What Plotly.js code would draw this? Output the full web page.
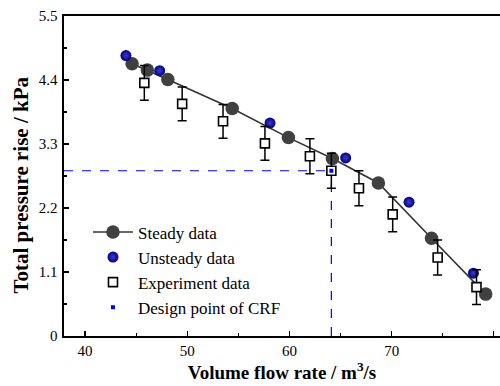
<!DOCTYPE html>
<html>
<head>
<meta charset="utf-8">
<script src="https://cdn.plot.ly/plotly-3.0.1.min.js"></script>
<style>html,body{margin:0;padding:0;overflow:hidden;background:#fff;}</style>
</head>
<body>
<div id="chart" style="width:500px;height:386px;"></div>
<script>
// Steady simulation data
const steadyX = [44.6, 46.1, 48.1, 54.4, 59.9, 64.2, 68.7, 73.9, 79.2];
const steadyY = [4.68, 4.57, 4.41, 3.91, 3.41, 3.05, 2.63, 1.68, 0.72];
// Unsteady simulation data
const unsteadyX = [44.0, 47.3, 58.1, 65.5, 71.7, 78.0];
const unsteadyY = [4.82, 4.56, 3.66, 3.06, 2.30, 1.08];
// Experiment data with error bars
const expX = [45.8, 49.5, 53.5, 57.6, 62.0, 64.1, 66.8, 70.1, 74.5, 78.3];
const expY = [4.35, 3.99, 3.69, 3.31, 3.09, 2.84, 2.54, 2.09, 1.35, 0.84];
const expErr = [0.30, 0.29, 0.29, 0.29, 0.30, 0.30, 0.30, 0.30, 0.30, 0.30];
// Design point
const designX = [64.1];
const designY = [2.84];
// Axis ticks
const xTicks = [40, 50, 60, 70, 80];
const yTicks = [0, 1.1, 2.2, 3.3, 4.4, 5.5];
const yTickText = ['0', '1.1', '2.2', '3.3', '4.4', '5.5'];
const xRange = [37.94, 80.6];
const yRange = [0, 5.5];

const serif = '"Liberation Serif", "Times New Roman", serif';

const traces = [
  {
    x: steadyX, y: steadyY, type: 'scatter', mode: 'lines+markers', name: 'Steady data',
    line: {color: '#333333', width: 1.6},
    marker: {color: '#404040', size: 13.5, symbol: 'circle'}
  },
  {
    x: unsteadyX, y: unsteadyY, type: 'scatter', mode: 'markers', name: 'Unsteady data',
    marker: {color: '#00007f', size: 11, symbol: 'circle',
             gradient: {type: 'radial', color: '#3c3cd6'}}
  },
  {
    x: expX, y: expY, type: 'scatter', mode: 'markers', name: 'Experiment data',
    marker: {color: 'rgba(255,255,255,1)', size: 9, symbol: 'square',
             line: {color: '#000', width: 1.6}},
    error_y: {type: 'data', array: expErr, visible: true, color: '#000', thickness: 1.5, width: 4.5}
  },
  {
    x: designX, y: designY, type: 'scatter', mode: 'markers', name: 'Design point of CRF',
    marker: {color: '#0000ff', size: 4, symbol: 'square'}
  }
];

// dashed guide lines from the axes to the design point
const shapes = [
  {type: 'line', xref: 'x', yref: 'y', x0: xRange[0], x1: designX[0], y0: designY[0], y1: designY[0],
   line: {color: '#0000ff', width: 1.2, dash: 'dash'}, layer: 'below'},
  {type: 'line', xref: 'x', yref: 'y', x0: designX[0], x1: designX[0], y0: yRange[0], y1: designY[0],
   line: {color: '#0000ff', width: 1.2, dash: 'dash'}, layer: 'below'}
];

const layout = {
  width: 500, height: 386,
  margin: {l: 64, r: 0, t: 16, b: 50},
  paper_bgcolor: '#fff', plot_bgcolor: '#fff',
  font: {family: serif, size: 15, color: '#000'},
  showlegend: true,
  legend: {x: 0.055, y: 0.38, xanchor: 'left', yanchor: 'top',
           bgcolor: 'rgba(0,0,0,0)', font: {family: serif, size: 17, color: '#000'},
           tracegroupgap: 0, itemwidth: 40},
  xaxis: {
    range: xRange, tickvals: xTicks, ticktext: xTicks.map(String),
    ticks: 'inside', ticklen: 5, tickwidth: 1.2, tickcolor: '#000',
    minor: {dtick: 5, tick0: 0, ticks: 'inside', ticklen: 3, tickwidth: 1.2, tickcolor: '#000'},
    showline: true, linecolor: '#000', linewidth: 1.6, mirror: true,
    showgrid: false, zeroline: false,
    tickfont: {family: serif, size: 15, color: '#000'},
    title: {text: '<b>Volume flow rate / m<sup>3</sup>/s</b>', font: {family: serif, size: 19, color: '#000'}, standoff: 6}
  },
  yaxis: {
    range: yRange, tickvals: yTicks, ticktext: yTickText,
    ticks: 'inside', ticklen: 5, tickwidth: 1.2, tickcolor: '#000',
    minor: {dtick: 0.55, tick0: 0, ticks: 'inside', ticklen: 3, tickwidth: 1.2, tickcolor: '#000'},
    showline: true, linecolor: '#000', linewidth: 1.6, mirror: false,
    showgrid: false, zeroline: false, ticklabelstandoff: 2,
    tickfont: {family: serif, size: 15, color: '#000'}
  },
  annotations: [
    {text: '<b>Total pressure rise / kPa</b>', textangle: -90, showarrow: false,
     xref: 'paper', yref: 'paper', x: 0, y: 0.47, xanchor: 'center', yanchor: 'middle',
     xshift: -43, font: {family: serif, size: 21, color: '#000'}}
  ],
  shapes: shapes
};

Plotly.newPlot('chart', traces, layout, {displayModeBar: false, staticPlot: true});
</script>
</body>
</html>
